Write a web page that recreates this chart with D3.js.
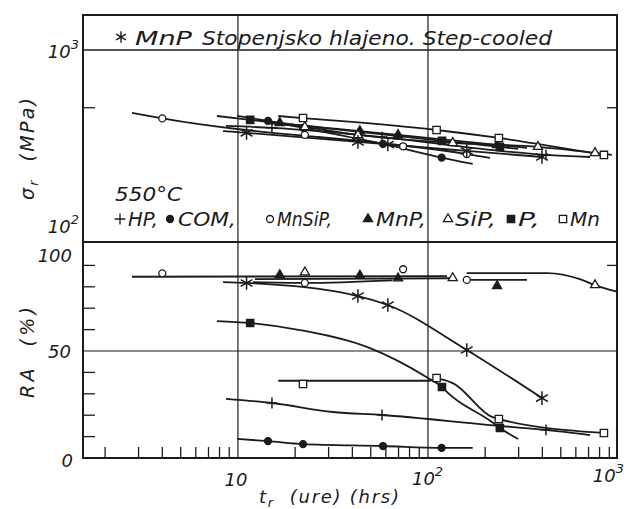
<!DOCTYPE html>
<html>
<head>
<meta charset="utf-8">
<script src="https://cdn.jsdelivr.net/npm/d3@7"></script>
<style>
  html, body { margin: 0; padding: 0; background: #fff; }
  svg { display: block; }
  text { font-family: "DejaVu Sans", sans-serif; font-style: italic; fill: #1b1b1b; }
</style>
</head>
<body>
<svg id="chart" width="627" height="509"></svg>
<script>
// Creep rupture of step-cooled steels at 550 °C.
// Each point is [rupture time t_r in hours, value]; stress in MPa, RA in %.

// HP
const hpStressLine  = [[8.65, 402], [15.1, 393], [57.3, 352], [212, 302], [418, 284], [713, 277]];
const hpStressMarks = [[15.1, 393], [57.3, 352], [418, 284]];
const hpRALine      = [[8.65, 27.6], [15.1, 25.7], [31.6, 21.5], [57.3, 20.1], [212, 15.4], [418, 13.1], [713, 10.7]];
const hpRAMarks     = [[15.1, 25.7], [57.3, 20.1], [418, 13.1]];

// COM
const comStressLine  = [[9.9, 453], [14.4, 427], [22, 393], [58, 324], [118, 275], [172, 255]];
const comStressMarks = [[14.4, 427], [22, 393], [58, 324], [118, 275]];
const comRALine      = [[9.9, 8.9], [14.4, 7.9], [22, 6.5], [58, 5.6], [118, 4.7], [172, 4.7]];
const comRAMarks     = [[14.4, 7.9], [22, 6.5], [58, 5.6], [118, 4.7]];

// MnSiP
const mnsipStressLine  = [[2.77, 470], [4, 440], [160, 287], [212, 274]];
const mnsipStressMarks = [[4, 440], [22.5, 361], [74, 315], [160, 287]];
const mnsipRALineA     = [[2.77, 84.7], [126, 85]];
const mnsipRALineB     = [[12, 82.2], [22.5, 81.8], [65, 83]];
const mnsipRAMarks     = [[4, 86.3], [22.5, 81.8], [74, 88.2], [160, 83.2]];

// MnP
const mnpStressLine  = [[12.7, 432], [16.6, 417], [43.8, 378], [69.6, 361], [231, 320], [332, 309]];
const mnpStressMarks = [[16.6, 417], [43.8, 378], [69.6, 361], [231, 320]];
const mnpRALine      = [[166, 83.2], [332, 83.2]];
const mnpRAMarks     = [[16.6, 85.5], [43.8, 85.3], [69.6, 84], [231, 80.4]];

// SiP
const sipStressLine  = [[13.9, 417], [22.5, 397], [42.8, 361], [135, 328], [379, 313], [757, 291], [929, 284]];
const sipStressMarks = [[22.5, 397], [42.8, 361], [135, 328], [379, 313], [757, 291]];
const sipRALineA     = [[12.3, 83.6], [135, 84]];
const sipRALineB     = [[160, 86.4], [423, 86.4], [630, 83.6], [757, 80.8], [988, 77.7]];
const sipRAMarks     = [[22.5, 86.8], [135, 84.1], [757, 80.8]];

// P
const pStressLine  = [[7.75, 453], [11.6, 432], [118.5, 336], [239, 313], [298, 305]];
const pStressMarks = [[11.6, 432], [118.5, 336], [239, 313]];
const pRALine      = [[7.75, 64], [11.6, 63.1], [21.2, 59.8], [47.7, 51.9], [100, 37.4], [118.5, 33.2], [126, 30.8], [217, 16.8], [239, 14], [298, 8.9]];
const pRAMarks     = [[11.6, 63.1], [118.5, 33.2], [239, 14]];

// Mn
const mnStressLine  = [[16.3, 453], [22, 442], [111, 383], [236, 348], [843, 284]];
const mnStressMarks = [[22, 442], [111, 383], [236, 348], [843, 284]];
const mnRALine      = [[16.3, 36.1], [102, 36.1], [111, 37], [135, 35], [217, 19.2], [236, 18.2], [843, 11.7]];
const mnRAMarks     = [[22, 34.6], [111, 37.4], [236, 18.2], [843, 11.7]];

// MnP, step-cooled
const stepStressLine  = [[8.35, 378], [11.1, 370], [42.8, 332], [61.5, 322], [160, 298], [398, 277]];
const stepStressMarks = [[11.1, 370], [42.8, 332], [61.5, 322], [160, 298], [398, 277]];
const stepRALine      = [[8.35, 82.2], [11.1, 81.8], [42.8, 75.7], [61.5, 71.5], [160, 50.5], [398, 28]];
const stepRAMarks     = [[11.1, 81.8], [42.8, 75.7], [61.5, 71.5], [160, 50.5], [398, 28]];

// axis labels
const stressTicks = [100, 1000];
const raTickLabels = [0, 50, 100];
const timeTickLabels = [10, 100, 1000];
const legendLabels = ["HP,", "COM,", "MnSiP,", "MnP,", "SiP,", "P,", "Mn"];

// ---------------------------------------------------------------------------
const ink = "#1b1b1b";
const svg = d3.select("#chart");
const L = 83, R = 617, T = 15, MID = 242, B = 458;

const x   = d3.scaleLog().domain([1.53, 1000]).range([83, 618]);
const yS  = d3.scaleLog().domain([100, 1520]).range([242, 15]);
const yRA = d3.scaleLinear().domain([0, 100]).range([458, 244]);

const sym = {
  plus:     { type: d3.symbolPlus,     size: 40,  fill: false, stroke: true },
  dot:      { type: d3.symbolCircle,   size: 38,  fill: true },
  ring:     { type: d3.symbolCircle,   size: 38,  fill: false },
  triFill:  { type: d3.symbolTriangle, size: 36,  fill: true },
  triOpen:  { type: d3.symbolTriangle, size: 36,  fill: false },
  sqFill:   { type: d3.symbolSquare,   size: 54,  fill: true },
  sqOpen:   { type: d3.symbolSquare,   size: 54,  fill: false },
  star:     { type: d3.symbolAsterisk, size: 130, fill: false, stroke: true }
};

const series = [
  { sym: sym.plus,    stress: [hpStressLine],    stressMarks: hpStressMarks,    ra: [hpRALine],                   raMarks: hpRAMarks },
  { sym: sym.dot,     stress: [comStressLine],   stressMarks: comStressMarks,   ra: [comRALine],                  raMarks: comRAMarks },
  { sym: sym.ring,    stress: [mnsipStressLine], stressMarks: mnsipStressMarks, ra: [mnsipRALineA, mnsipRALineB], raMarks: mnsipRAMarks },
  { sym: sym.triFill, stress: [mnpStressLine],   stressMarks: mnpStressMarks,   ra: [mnpRALine],                  raMarks: mnpRAMarks },
  { sym: sym.triOpen, stress: [sipStressLine],   stressMarks: sipStressMarks,   ra: [sipRALineA, sipRALineB],     raMarks: sipRAMarks },
  { sym: sym.sqFill,  stress: [pStressLine],     stressMarks: pStressMarks,     ra: [pRALine],                    raMarks: pRAMarks },
  { sym: sym.sqOpen,  stress: [mnStressLine],    stressMarks: mnStressMarks,    ra: [mnRALine],                   raMarks: mnRAMarks },
  { sym: sym.star,    stress: [stepStressLine],  stressMarks: stepStressMarks,  ra: [stepRALine],                 raMarks: stepRAMarks }
];

// --- frame, grid and ticks -------------------------------------------------
const grid = svg.append("g").attr("stroke", ink).attr("fill", "none");

[10, 100].forEach(t => grid.append("line")
  .attr("x1", x(t)).attr("x2", x(t)).attr("y1", T).attr("y2", B)
  .attr("stroke-width", 1.2));
grid.append("line").attr("x1", L).attr("x2", R).attr("y1", yS(1000)).attr("y2", yS(1000)).attr("stroke-width", 1.4);
grid.append("line").attr("x1", L).attr("x2", R).attr("y1", yRA(50)).attr("y2", yRA(50)).attr("stroke-width", 1.2);

// 500 MPa ticks, both sides
grid.append("line").attr("x1", L).attr("x2", L + 12).attr("y1", yS(500)).attr("y2", yS(500)).attr("stroke-width", 1.3);
grid.append("line").attr("x1", R - 10).attr("x2", R).attr("y1", yS(500)).attr("y2", yS(500)).attr("stroke-width", 1.3);

// RA ticks
d3.range(10, 100, 10).filter(v => v !== 50).forEach(v => grid.append("line")
  .attr("x1", L).attr("x2", L + 12).attr("y1", yRA(v)).attr("y2", yRA(v)).attr("stroke-width", 1.3));
grid.append("line").attr("x1", R - 10).attr("x2", R).attr("y1", yRA(90)).attr("y2", yRA(90)).attr("stroke-width", 1.3);

// minor time ticks along the bottom
[1, 10, 100].forEach(dec => d3.range(2, 10).forEach(k => {
  const t = k * dec;
  if (t < x.domain()[0] || t > 1000) return;
  grid.append("line").attr("x1", x(t)).attr("x2", x(t)).attr("y1", B).attr("y2", B - 11).attr("stroke-width", 1.3);
}));

grid.append("rect").attr("x", L).attr("y", T).attr("width", R - L).attr("height", B - T).attr("stroke-width", 2);
grid.append("line").attr("x1", L).attr("x2", R).attr("y1", MID).attr("y2", MID).attr("stroke-width", 2);

// --- data ------------------------------------------------------------------
const plot = svg.append("g");
function lineFor(yScale) {
  return d3.line().x(d => x(d[0])).y(d => yScale(d[1])).curve(d3.curveMonotoneX);
}
function drawMarks(g, pts, yScale, s) {
  g.selectAll(null).data(pts).join("path")
    .attr("transform", d => `translate(${x(d[0])},${yScale(d[1])})`)
    .attr("d", d3.symbol().type(s.type).size(s.size))
    .attr("fill", s.stroke ? "none" : (s.fill ? ink : "#fff"))
    .attr("stroke", ink)
    .attr("stroke-width", s.stroke ? 1.5 : 1.3);
}

const lines = plot.append("g").attr("fill", "none").attr("stroke", ink).attr("stroke-width", 1.8);
series.forEach(s => {
  s.stress.forEach(l => lines.append("path").attr("d", lineFor(yS)(l)));
  s.ra.forEach(l => lines.append("path").attr("d", lineFor(yRA)(l)));
});
const marks = plot.append("g");
series.forEach(s => {
  drawMarks(marks, s.stressMarks, yS, s.sym);
  drawMarks(marks, s.raMarks, yRA, s.sym);
});

// --- text ------------------------------------------------------------------
const txt = svg.append("g");

// title band
txt.append("path")
  .attr("transform", "translate(121,37)")
  .attr("d", d3.symbol().type(d3.symbolAsterisk).size(90))
  .attr("stroke", ink).attr("stroke-width", 1.4).attr("fill", "none");
txt.append("text").attr("x", 135).attr("y", 45).attr("font-size", 19)
  .attr("textLength", 57).attr("lengthAdjust", "spacingAndGlyphs").text("MnP");
txt.append("text").attr("x", 202).attr("y", 45).attr("font-size", 19)
  .attr("textLength", 350).attr("lengthAdjust", "spacingAndGlyphs").text("Stopenjsko hlajeno. Step-cooled");

// temperature and legend
txt.append("text").attr("x", 115).attr("y", 201).attr("font-size", 20)
  .attr("textLength", 67).attr("lengthAdjust", "spacingAndGlyphs").text("550°C");

const legendSyms = [sym.plus, sym.dot, sym.ring, sym.triFill, sym.triOpen, sym.sqFill, sym.sqOpen];
const legendLayout = [
  { sx: 120, tx: 128, tw: 30 },
  { sx: 170, tx: 178, tw: 58 },
  { sx: 270, tx: 277, tw: 55 },
  { sx: 368, tx: 376, tw: 50 },
  { sx: 448, tx: 455, tw: 41 },
  { sx: 511, tx: 518, tw: 22 },
  { sx: 563, tx: 570, tw: 30 }
];
legendLabels.forEach((lab, i) => {
  const s = legendSyms[i], p = legendLayout[i];
  txt.append("path")
    .attr("transform", `translate(${p.sx},219)`)
    .attr("d", d3.symbol().type(s.type).size(s.size))
    .attr("fill", s.stroke ? "none" : (s.fill ? ink : "#fff"))
    .attr("stroke", ink).attr("stroke-width", 1.3);
  txt.append("text").attr("x", p.tx).attr("y", 226).attr("font-size", 19)
    .attr("textLength", p.tw).attr("lengthAdjust", "spacingAndGlyphs").text(lab);
});

// stress axis labels (powers of ten)
function powLabel(g, xPos, yPos, anchor, exp) {
  const t = g.append("text").attr("x", xPos).attr("y", yPos).attr("font-size", 18).attr("text-anchor", anchor);
  t.append("tspan").text("10");
  t.append("tspan").attr("dy", -9).attr("font-size", 13).text(exp);
  return t;
}
powLabel(txt, 79, yS(stressTicks[1]) + 8, "end", "3");
powLabel(txt, 79, yS(stressTicks[0]) - 9, "end", "2");

// RA axis labels
txt.append("text").attr("x", 72).attr("y", yRA(raTickLabels[2]) + 18).attr("font-size", 18).attr("text-anchor", "end").text(raTickLabels[2]);
txt.append("text").attr("x", 71).attr("y", yRA(raTickLabels[1]) + 7).attr("font-size", 18).attr("text-anchor", "end").text(raTickLabels[1]);
txt.append("text").attr("x", 73).attr("y", yRA(raTickLabels[0]) + 9).attr("font-size", 18).attr("text-anchor", "end").text(raTickLabels[0]);

// time axis labels
txt.append("text").attr("x", x(timeTickLabels[0]) - 2).attr("y", 486).attr("font-size", 18).attr("text-anchor", "middle").text("10");
powLabel(txt, x(timeTickLabels[1]) - 16, 485, "start", "2");
powLabel(txt, 624, 482, "end", "3");

// axis titles
const tTitle = txt.append("text").attr("x", 259).attr("y", 503).attr("font-size", 18)
  .attr("textLength", 140).attr("lengthAdjust", "spacing");
tTitle.append("tspan").text("t");
tTitle.append("tspan").attr("dy", 4).attr("font-size", 13).text("r");
tTitle.append("tspan").attr("dy", -4).style("white-space", "pre").text("  (ure) (hrs)");

const sTitle = txt.append("text").attr("transform", "translate(34,200) rotate(-90)").attr("font-size", 19)
  .attr("textLength", 102).attr("lengthAdjust", "spacing");
sTitle.append("tspan").text("σ");
sTitle.append("tspan").attr("dy", 4).attr("font-size", 13).text("r");
sTitle.append("tspan").attr("dy", -4).style("white-space", "pre").text("  (MPa)");

txt.append("text").attr("transform", "translate(34,398) rotate(-90)").attr("font-size", 19)
  .attr("textLength", 91).attr("lengthAdjust", "spacing").style("white-space", "pre").text("RA  (%)");
</script>
</body>
</html>
